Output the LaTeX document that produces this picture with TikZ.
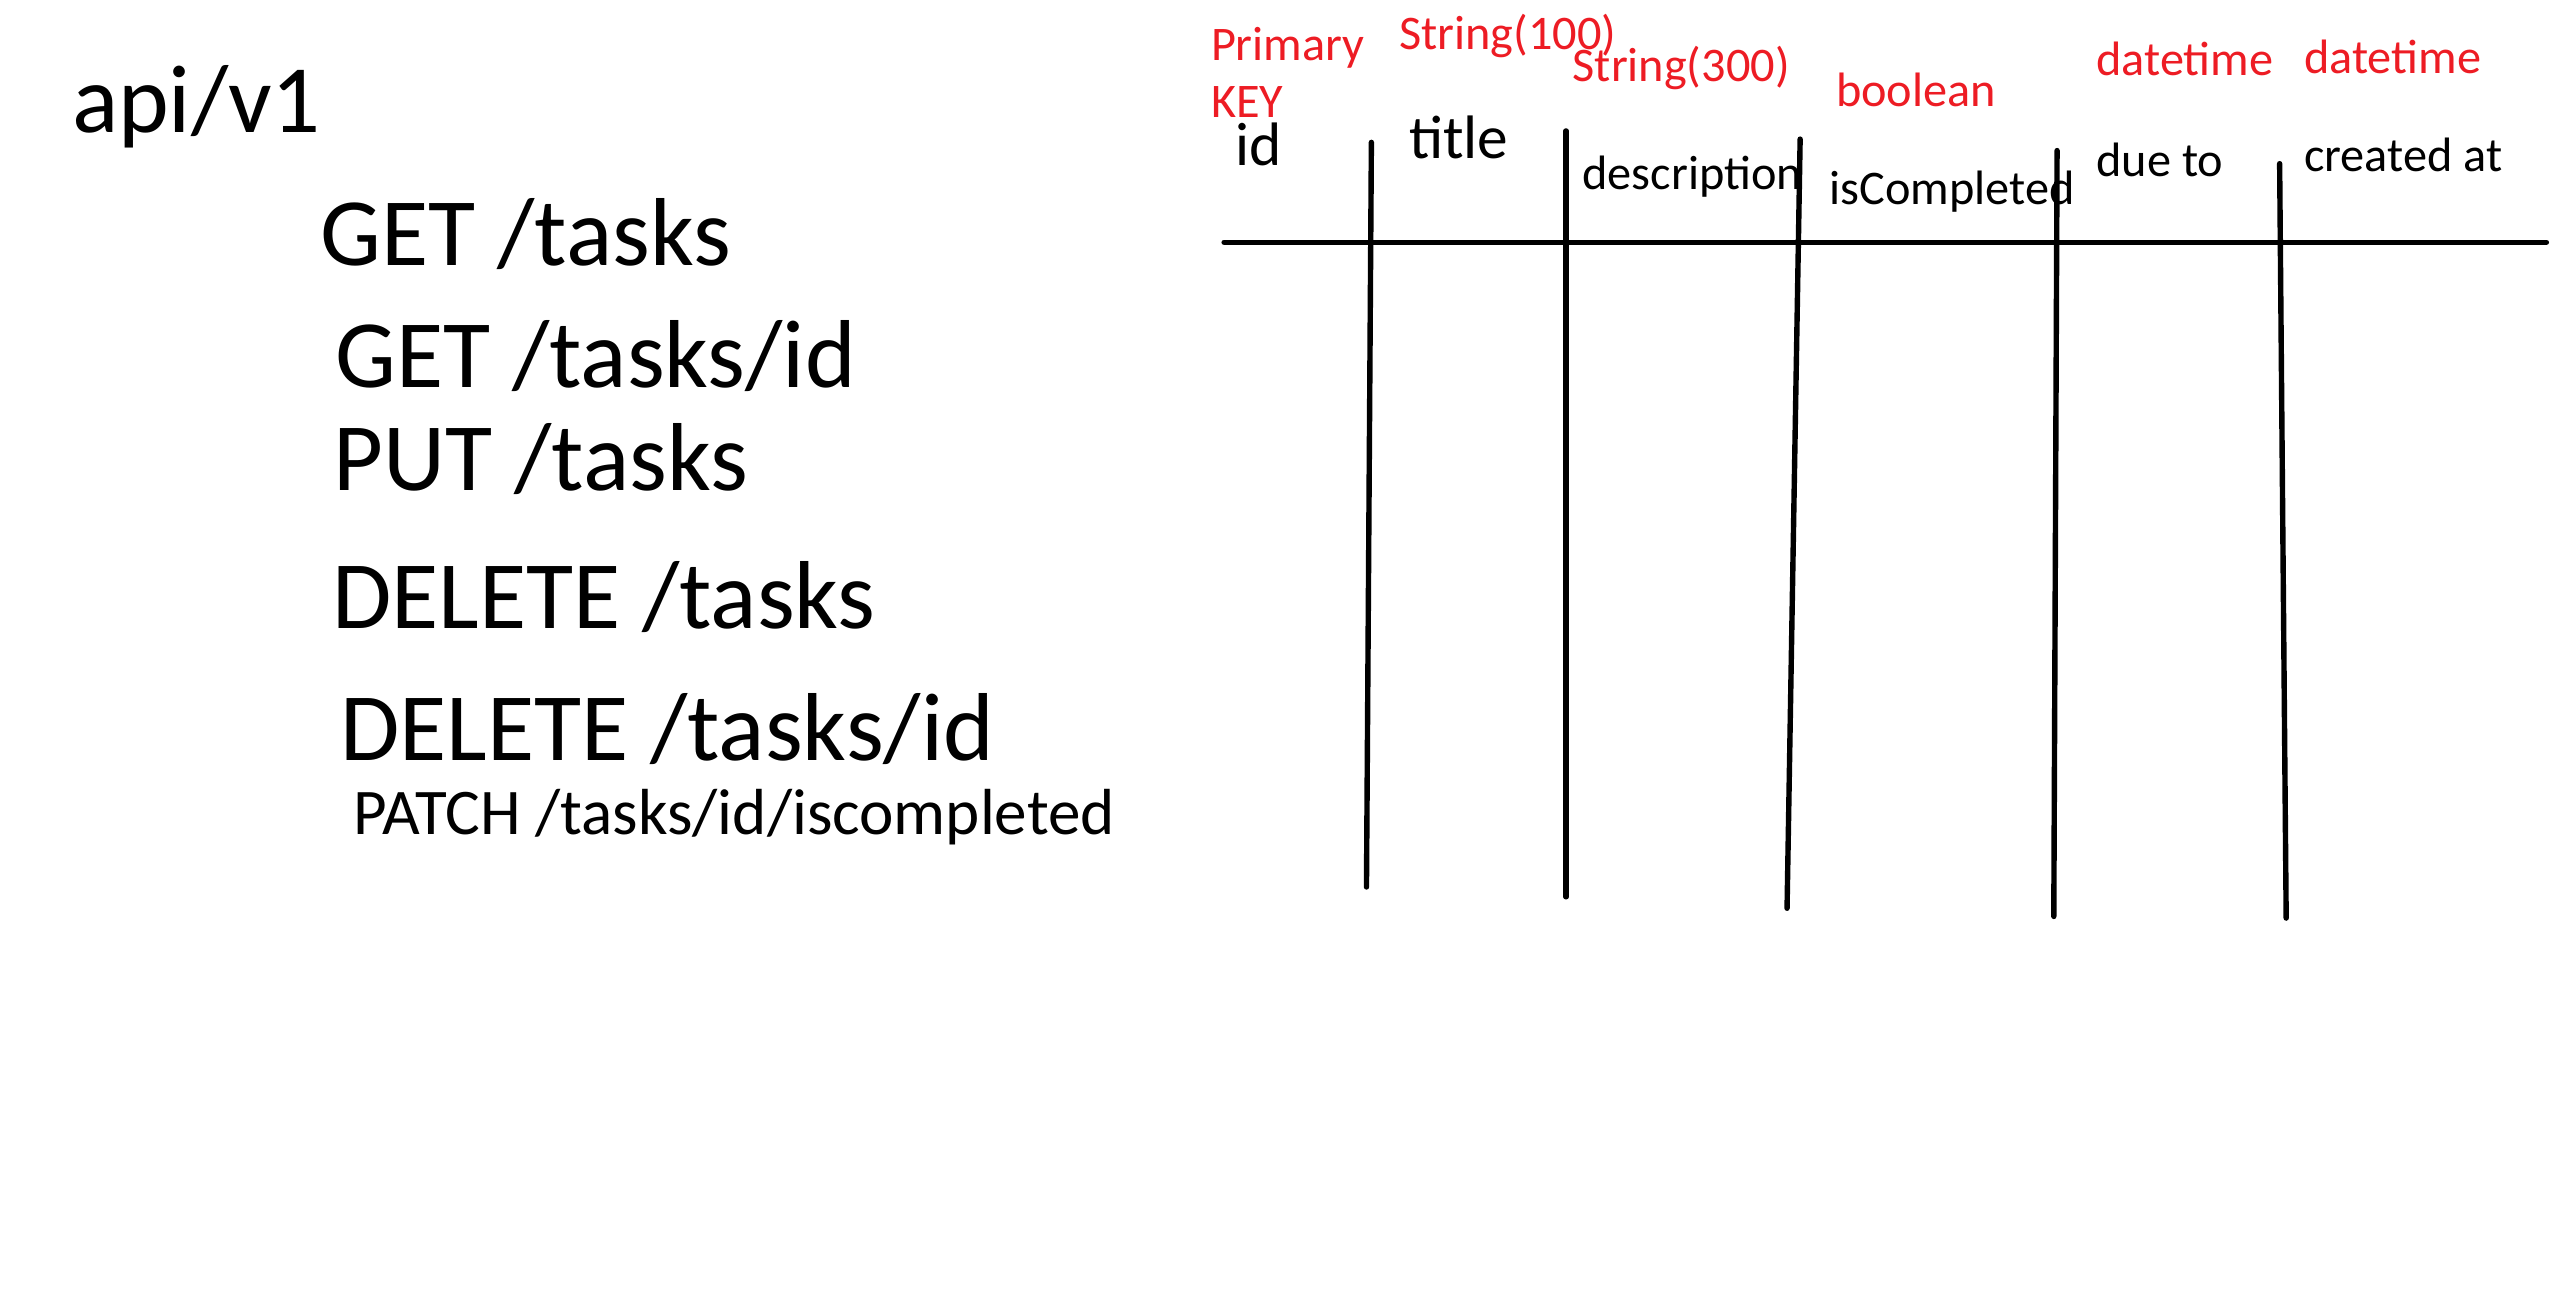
\documentclass[tikz,border=0pt]{standalone}
\usepackage{fontspec}
\setmainfont{Carlito}
\definecolor{paintred}{RGB}{237,28,36}
\tikzset{
  lbl/.style={anchor=base west, inner sep=0pt, outer sep=0pt},
  route/.style={lbl, font=\fontsize{59}{59}\selectfont},
  small/.style={lbl, font=\fontsize{39.8}{40}\selectfont},
  col/.style={lbl, font=\fontsize{29.5}{30}\selectfont},
  colbig/.style={lbl, font=\fontsize{37.5}{38}\selectfont},
  typ/.style={lbl, text=paintred, font=\fontsize{29.5}{30}\selectfont},
  pen/.style={line width=3.3pt, line cap=round}
}
\begin{document}
\begin{tikzpicture}[x=1pt,y=-1pt]
\useasboundingbox (0,0) rectangle (1568,798);
% routes
\node[route] (api) at (44,81) {api/v1};
\node[route] (r1) at (196,162) {GET /tasks};
\node[route] (r2) at (205,237) {GET /tasks/id};
\node[route] (r3) at (204,300) {PUT /tasks};
\node[route] (r4) at (203,384) {DELETE /tasks};
\node[route] (r5) at (208,465) {DELETE /tasks/id};
\node[small] (r6) at (216,510) {PATCH /tasks/id/iscompleted};
% table lines
\draw[pen] (748,148) -- (1556,148);
\draw[pen] (838,87) -- (835,542);
\draw[pen] (957,80) -- (957,548);
\draw[pen] (1100,85) -- (1092,555);
\draw[pen] (1257,92) -- (1255,560);
\draw[pen] (1393,100) -- (1397,561);
% column names
\node[colbig] (cid) at (755,101) {id};
\node[colbig] (ctitle) at (861,97) {title};
\node[col] (cdesc) at (967,116) {description};
\node[col] (ccomp) at (1118,125) {isCompleted};
\node[col] (cdue) at (1281,108) {due to};
\node[col] (ccre) at (1408,105) {created at};
% types
\node[typ] (t1) at (740,37) {Primary};
\node[typ] (t1b) at (740,72) {KEY};
\node[typ] (t2) at (855,30) {String(100)};
\node[typ] (t3) at (961,50) {String(300)};
\node[typ] (t4) at (1122,65) {boolean};
\node[typ] (t5) at (1281,46) {datetime};
\node[typ] (t6) at (1408,45) {datetime};
\end{tikzpicture}
\end{document}
